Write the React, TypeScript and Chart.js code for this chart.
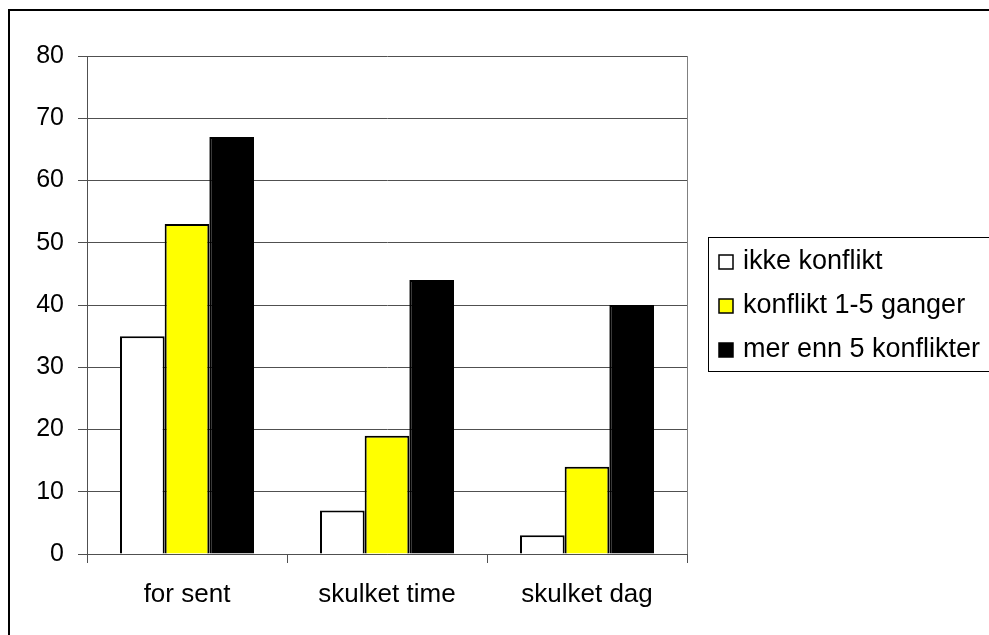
import React, { useEffect, useRef } from "react";
import { Chart, registerables } from "chart.js";

Chart.register(...registerables);

const categories = ["for sent", "skulket time", "skulket dag"];
const seriesNames = ["ikke konflikt", "konflikt 1-5 ganger", "mer enn 5 konflikter"];
const ikkeKonflikt = [35, 7, 3];
const konflikt15 = [53, 19, 14];
const merEnn5 = [67, 44, 40];
const seriesColors = ["#FFFFFF", "#FFFF00", "#000000"];
const yTicks = { min: 0, max: 80, step: 10 };

const FONT = "'Liberation Sans', Arial, sans-serif";

const decorPlugin = {
  id: "decor",
  afterDraw(chart: any) {
    const ctx = chart.ctx;
    const area = chart.chartArea;
    ctx.save();
    // outer frame (left and top visible)
    ctx.fillStyle = "#000";
    ctx.fillRect(8, 9, 2, 640);
    ctx.fillRect(8, 9, 1000, 2);
    // plot area right border
    ctx.strokeStyle = "#808080";
    ctx.lineWidth = 1;
    ctx.beginPath();
    ctx.moveTo(Math.round(area.right) + 0.5, area.top);
    ctx.lineTo(Math.round(area.right) + 0.5, area.bottom);
    ctx.stroke();
    // legend box
    const bx = 708.5, by = 237.5;
    ctx.strokeStyle = "#000";
    ctx.lineWidth = 1;
    ctx.strokeRect(bx, by, 400, 134);
    ctx.font = `27px ${FONT}`;
    ctx.textBaseline = "alphabetic";
    ctx.textAlign = "left";
    const baselines = [269, 313, 357];
    chart.data.datasets.forEach((ds: any, i: number) => {
      const b = baselines[i];
      ctx.fillStyle = ds.backgroundColor;
      ctx.fillRect(719, b - 14, 14, 14);
      ctx.strokeStyle = "#000";
      ctx.lineWidth = 1.5;
      ctx.strokeRect(719, b - 14, 14, 14);
      ctx.fillStyle = "#000";
      ctx.fillText(ds.label, 743, b);
    });
    ctx.restore();
  },
};

export default function App() {
  const ref = useRef<HTMLCanvasElement | null>(null);
  useEffect(() => {
    if (!ref.current) return;
    const data = [ikkeKonflikt, konflikt15, merEnn5];
    const chart = new Chart(ref.current, {
      type: "bar",
      data: {
        labels: categories,
        datasets: seriesNames.map((name, i) => ({
          label: name,
          data: data[i],
          backgroundColor: seriesColors[i],
          borderColor: "#000000",
          borderWidth: 2,
          categoryPercentage: 0.67,
          barPercentage: 1,
        })),
      },
      options: {
        responsive: false,
        animation: false,
        devicePixelRatio: 1,
        layout: { padding: { left: 0, right: 302, top: 56, bottom: 0 } },
        plugins: { legend: { display: false }, tooltip: { enabled: false } },
        scales: {
          x: {
            afterFit: (s: any) => {
              s.height = 81;
            },
            grid: {
              offset: true,
              drawOnChartArea: false,
              drawTicks: true,
              tickLength: 9,
              color: "#505050",
            },
            border: { display: true, color: "#505050", width: 1 },
            ticks: {
              color: "#000",
              padding: 16,
              font: { family: FONT, size: 26 },
            },
          },
          y: {
            min: yTicks.min,
            max: yTicks.max,
            afterFit: (s: any) => {
              s.width = 87;
            },
            grid: {
              color: "#505050",
              tickLength: 9,
              drawTicks: true,
            },
            border: { display: true, color: "#505050", width: 1 },
            ticks: {
              stepSize: yTicks.step,
              color: "#000",
              padding: 14,
              font: { family: FONT, size: 25 },
            },
          },
        },
      },
      plugins: [decorPlugin],
    });
    return () => chart.destroy();
  }, []);
  return (
    <div style={{ position: "fixed", left: 0, top: 0, width: 989, height: 635, overflow: "hidden", background: "#fff" }}>
      <canvas ref={ref} width={989} height={635} style={{ display: "block", width: 989, height: 635 }} />
    </div>
  );
}
